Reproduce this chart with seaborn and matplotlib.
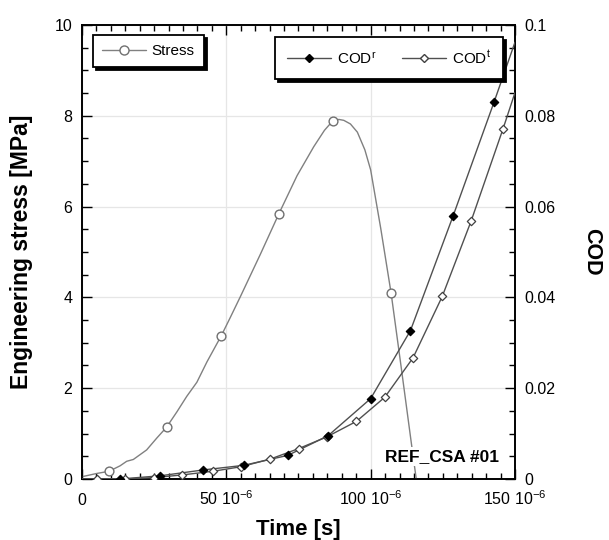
import numpy as np
import pandas as pd
import matplotlib
matplotlib.use("Agg")
import matplotlib.pyplot as plt
import seaborn as sns
from matplotlib.lines import Line2D
from matplotlib.ticker import MultipleLocator, FixedLocator, FixedFormatter

# ---------------- data (time in microseconds) ----------------
stress_t = [0.0, 5.0, 9.4, 13.2, 15.5, 17.8, 22.4, 25.9, 29.3, 32.9, 36.3, 39.8, 43.3,
            48.3, 51.4, 54.9, 57.2, 61.8, 68.2, 74.5, 80.3, 84.0, 86.9, 89.0, 90.7, 93.0,
            95.4, 98.0, 100.0, 103.5, 107.1, 110.5, 114.1, 115.8]
stress_v = [0.05, 0.12, 0.17, 0.29, 0.39, 0.43, 0.64, 0.90, 1.14, 1.48, 1.82, 2.13, 2.58,
            3.16, 3.56, 4.02, 4.33, 4.95, 5.84, 6.68, 7.32, 7.68, 7.89, 7.92, 7.90, 7.82,
            7.64, 7.25, 6.81, 5.52, 4.09, 2.50, 0.79, 0.00]
stress_marker_idx = [2, 8, 13, 18, 22, 30]

codr_t = [0.0, 13.2, 27.1, 42.1, 56.0, 71.3, 85.2, 100.0, 113.8, 128.6, 142.8, 150.0]
codr_v = [0.0, 0.0, 0.0007, 0.0020, 0.0030, 0.0052, 0.0095, 0.0177, 0.0327, 0.0580, 0.0831, 0.0962]
codr_marker_idx = list(range(1, 11))

codt_t = [0.0, 5.3, 14.9, 25.0, 34.8, 45.4, 55.1, 65.3, 75.1, 84.9, 95.1, 104.9, 114.7,
          124.8, 134.8, 145.9, 150.0]
codt_v = [0.0, 0.0, 0.0, 0.0003, 0.0009, 0.0017, 0.0027, 0.0044, 0.0067, 0.0093, 0.0127,
          0.0180, 0.0267, 0.0402, 0.0568, 0.0772, 0.0851]
codt_marker_idx = list(range(1, 16))

x_ticks = [0, 50, 100, 150]
x_tick_labels = ["0", "50 10$^{-6}$", "100 10$^{-6}$", "150 10$^{-6}$"]
y_left_ticks = [0, 2, 4, 6, 8, 10]
y_right_ticks = [0, 0.02, 0.04, 0.06, 0.08, 0.1]
y_right_labels = ["0", "0.02", "0.04", "0.06", "0.08", "0.1"]

# ---------------- style ----------------
sns.set_style("white")
plt.rcParams["font.family"] = ["Liberation Sans", "DejaVu Sans"]
plt.rcParams["mathtext.fontset"] = "custom"
plt.rcParams["mathtext.rm"] = "Liberation Sans"
plt.rcParams["mathtext.it"] = "Liberation Sans:italic"
plt.rcParams["mathtext.bf"] = "Liberation Sans:bold"
for k in ["text.color", "axes.labelcolor", "xtick.color", "ytick.color", "axes.edgecolor"]:
    plt.rcParams[k] = "black"

US = 1e-6
stress_df = pd.DataFrame({"t": np.array(stress_t) * US, "v": stress_v})
codr_df = pd.DataFrame({"t": np.array(codr_t) * US, "v": codr_v})
codt_df = pd.DataFrame({"t": np.array(codt_t) * US, "v": codt_v})

fig = plt.figure(figsize=(6.09, 5.40), dpi=100)
ax = fig.add_axes([0.1346, 0.113, 0.711, 0.8407])
ax2 = ax.twinx()

stress_col = "#808080"
cod_col = "#505050"

# stress
sns.lineplot(data=stress_df, x="t", y="v", ax=ax, color=stress_col, lw=1.0,
             sort=False, estimator=None, zorder=3)
sns.scatterplot(data=stress_df.iloc[stress_marker_idx], x="t", y="v", ax=ax, marker="o",
                s=40, facecolor="white", edgecolor="#707070", linewidth=1.0, zorder=4)

# COD
sns.lineplot(data=codr_df, x="t", y="v", ax=ax2, color=cod_col, lw=1.0,
             sort=False, estimator=None, zorder=3)
sns.lineplot(data=codt_df, x="t", y="v", ax=ax2, color=cod_col, lw=1.0,
             sort=False, estimator=None, zorder=3)
sns.scatterplot(data=codt_df.iloc[codt_marker_idx], x="t", y="v", ax=ax2, marker="D",
                s=18, facecolor="white", edgecolor="#404040", linewidth=0.9, zorder=4)
sns.scatterplot(data=codr_df.iloc[codr_marker_idx], x="t", y="v", ax=ax2, marker="D",
                s=18, facecolor="black", edgecolor="black", linewidth=0.9, zorder=5)

# axes limits / ticks
ax.set_xlim(0, 150 * US)
ax.set_ylim(0, 10)
ax2.set_ylim(0, 0.1)

ax.xaxis.set_major_locator(FixedLocator([t * US for t in x_ticks]))
ax.xaxis.set_major_formatter(FixedFormatter(x_tick_labels))
ax.xaxis.set_minor_locator(MultipleLocator(5 * US))
ax.yaxis.set_major_locator(FixedLocator(y_left_ticks))
ax.yaxis.set_minor_locator(MultipleLocator(0.5))
ax2.yaxis.set_major_locator(FixedLocator(y_right_ticks))
ax2.yaxis.set_major_formatter(FixedFormatter(y_right_labels))
ax2.yaxis.set_minor_locator(MultipleLocator(0.005))

ax.tick_params(axis="x", which="both", direction="in", top=True, bottom=True,
               labelsize=11.5, pad=19, color="black", labelcolor="black")
ax.tick_params(axis="y", which="both", direction="in", left=True, right=False,
               labelsize=11.5, pad=7, color="black", labelcolor="black")
ax2.tick_params(axis="y", which="both", direction="in", right=True, left=False,
                labelsize=11.5, pad=7, color="black", labelcolor="black")
for a in (ax, ax2):
    a.tick_params(which="major", length=7, width=1.0)
    a.tick_params(which="minor", length=4, width=1.0)
    for s in a.spines.values():
        s.set_color("black")
        s.set_linewidth(1.2)
for lab in ax.get_xticklabels():
    lab.set_verticalalignment("baseline")

ax.grid(True, which="major", color="#e6e6e6", lw=0.9)
ax.set_axisbelow(True)

ax.set_xlabel("Time [s]", fontsize=16, fontweight="bold", va="center", color="black")
ax.xaxis.set_label_coords(0.5, -0.112)
ax.set_ylabel("Engineering stress [MPa]", fontsize=16.5, fontweight="bold", va="center",
              color="black")
ax.yaxis.set_label_coords(-0.139, 0.5)
ax2.set_ylabel("COD", fontsize=15.5, fontweight="bold", rotation=270, va="center",
               color="black")
ax2.yaxis.set_label_coords(1.178, 0.5)

# annotation
ax.text(144.4 * US, 0.49, "REF_CSA #01", fontsize=12.5, fontweight="bold", color="black",
        ha="right", va="center", zorder=6,
        bbox=dict(facecolor="white", edgecolor="none", pad=1.5))

# legends
shadow = {"color": "black", "alpha": 1, "ox": 2, "oy": -2}
h_stress = Line2D([], [], color=stress_col, lw=1.0, marker="o", ms=6.5,
                  mfc="white", mec="#707070")
leg1 = ax2.legend([h_stress], ["Stress"], loc="upper left", bbox_to_anchor=(0.0254, 0.978),
                  borderaxespad=0, fontsize=11, frameon=True, fancybox=False,
                  shadow=shadow, handlelength=2.9, handletextpad=0.35, borderpad=0.6,
                  framealpha=1, labelcolor="black")
leg1.get_frame().set_edgecolor("black")
leg1.get_frame().set_linewidth(1.3)
ax2.add_artist(leg1)

h_r = Line2D([], [], color=cod_col, lw=1.0, marker="D", ms=4.2, mfc="black", mec="black")
h_t = Line2D([], [], color=cod_col, lw=1.0, marker="D", ms=4.2, mfc="white", mec="#404040")
leg2 = ax2.legend([h_r, h_t], [r"COD$^{\mathrm{r}}$", r"COD$^{\mathrm{t}}$"], ncol=2,
                  loc="upper right", bbox_to_anchor=(0.972, 0.9736), borderaxespad=0,
                  fontsize=11, frameon=True, fancybox=False, shadow=shadow,
                  handlelength=2.9, handletextpad=0.35, columnspacing=1.7,
                  borderpad=0.8, framealpha=1, labelcolor="black")
leg2.get_frame().set_edgecolor("black")
leg2.get_frame().set_linewidth(1.3)

fig.savefig("out.png", dpi=100)
